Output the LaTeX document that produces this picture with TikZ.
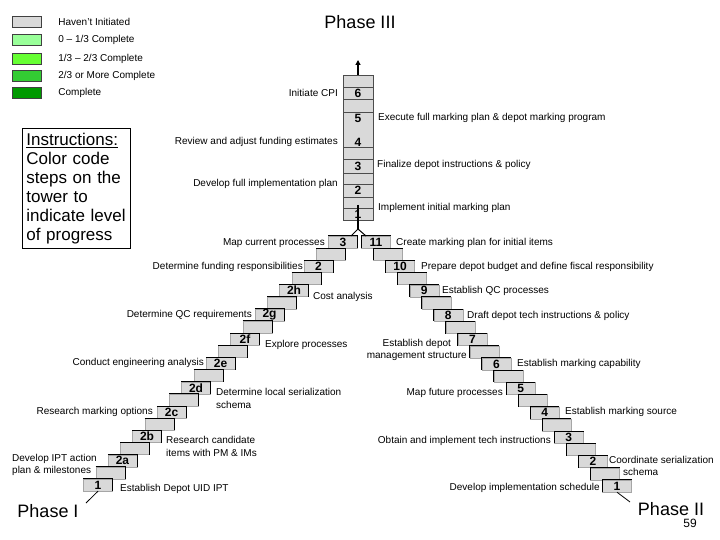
\documentclass[tikz,border=0pt]{standalone}
\usepackage{fontspec}
\setmainfont{Liberation Sans}
\usetikzlibrary{arrows.meta,positioning,calc}
\definecolor{stepgray}{RGB}{217,217,217}
\definecolor{progA}{RGB}{153,255,153}
\definecolor{progB}{RGB}{102,255,51}
\definecolor{progC}{RGB}{51,204,51}
\definecolor{progD}{RGB}{0,153,0}

\begin{document}
\begin{tikzpicture}[x=1pt,y=-1pt,
 stepbox/.style={rectangle,fill=stepgray,draw=gray!70,thin,minimum width=29pt,minimum height=12pt,inner sep=0pt},
 steplbl/.style={font=\bfseries\fontsize{12}{12}\selectfont,inner sep=0pt},
 edge/.style={black,line width=0.8pt},
 note/.style={font=\fontsize{10}{12.5}\selectfont,inner sep=0pt,align=left},
 phase/.style={font=\fontsize{18}{18}\selectfont,inner sep=0pt},
 keybox/.style={rectangle,draw=black!75,minimum width=29pt,minimum height=11pt,inner sep=0pt},
 keytxt/.style={font=\fontsize{10}{11}\selectfont,inner sep=0pt}
]
\useasboundingbox[fill=white] (0,0) rectangle (720,540);

% legend
\node[keybox,fill=stepgray] (k0) at (26.5,21.5) {};
\node[keybox,fill=progA] (k1) at (26.5,39.5) {};
\node[keybox,fill=progB] (k2) at (26.5,58.5) {};
\node[keybox,fill=progC] (k3) at (26.5,76) {};
\node[keybox,fill=progD] (k4) at (26.5,93) {};
\node[keytxt,right=17pt of k0] {Haven't Initiated};
\node[keytxt,right=17pt of k1] {0 – 1/3 Complete};
\node[keytxt,right=17pt of k2] {1/3 – 2/3 Complete};
\node[keytxt,right=17pt of k3] {2/3 or More Complete};
\node[keytxt,right=17pt of k4] {Complete};

\node[draw=black,line width=0.8pt,anchor=north west,minimum width=108pt,minimum height=120pt,
 text width=100pt,inner xsep=4pt,align=left,font=\fontsize{17}{19}\selectfont] (instr) at (22,128)
 {\underline{Instructions:}\\Color code\\steps on the\\tower to\\indicate level\\of progress};

% the two stairs
\foreach \k in {0,...,20}{
 \node[stepbox] (L\k) at ({98+12.25*\k},{485-12.15*\k}) {};
 \node[stepbox] (R\k) at ({376+12.05*\k},{242+12.2*\k}) {};
}
\foreach \k in {0,...,20}{
 \draw[edge] (L\k.north west) -- (L\k.north east) -- (L\k.south east);
 \draw[edge] (R\k.north east) -- (R\k.north west) -- (R\k.south west);
}
\foreach \k/\t in {0/1,2/2a,4/2b,6/2c,8/2d,10/2e,12/2f,14/2g,16/2h,18/2,20/3}
 \node[steplbl] (Ln\k) at (L\k) {\t};
\foreach \k/\t in {0/11,2/10,4/9,6/8,8/7,10/6,12/5,14/4,16/3,18/2,20/1}
 \node[steplbl] (Rn\k) at (R\k) {\t};

% tower
\node[stepbox,minimum width=30pt,minimum height=145pt,draw=black!70] (tower) at (358,147.5) {};
\foreach \y in {87,99,112,147,159,173,184,197,208}
 \draw[black!70] (343,\y) -- (373,\y);
\coordinate (peak) at (358,60);
\coordinate (stem) at (358,205);
\coordinate (fork) at (358,229);
\coordinate (forkL) at (351,236);
\coordinate (forkR) at (366,236);
\draw[-{Triangle[length=5pt,width=5pt]},line width=1.2pt] (tower.north) -- (peak);
\draw[line width=1.2pt] (stem) -- (fork);
\draw[line width=1pt] (forkL) -- (fork) -- (forkR);
\foreach \n/\y in {6/93,5/118,4/142,3/166,2/190,1/214}
 \node[steplbl] (t\n) at (358,\y) {\n};

\node[note,anchor=east] (n-cpi) at (338,93) {Initiate CPI};
\node[note,anchor=west] (n-exec) at (378,118) {Execute full marking plan \& depot marking program};
\node[note,anchor=east] (n-adjust) at (338,142) {Review and adjust funding estimates};
\node[note,anchor=west] (n-final) at (377,165) {Finalize depot instructions \& policy};
\node[note,anchor=east] (n-full) at (338,184) {Develop full implementation plan};
\node[note,anchor=west] (n-init) at (378,208) {Implement initial marking plan};

% left stair notes
\node[note,anchor=east] (n-map) at (325,243) {Map current processes};
\node[note,anchor=east] (n-resp) at (303,267) {Determine funding responsibilities};
\node[note,anchor=west] (n-cost) at (313,297) {Cost analysis};
\node[note,anchor=east] (n-qc) at (252,315) {Determine QC requirements};
\node[note,anchor=west] (n-explore) at (265,345) {Explore processes};
\node[note,anchor=east] (n-eng) at (204,363) {Conduct engineering analysis};
\node[note,anchor=west] (n-serial) at (216,398.5) {Determine local serialization\\schema};
\node[note,anchor=east] (n-opts) at (153,412) {Research marking options};
\node[note,anchor=west] (n-cand) at (166,446.5) {Research candidate\\items with PM \& IMs};
\node[note,anchor=west] (n-ipt) at (12,465) {Develop IPT action\\plan \& milestones};
\node[note,anchor=west] (n-uid) at (120,489) {Establish Depot UID IPT};

% right stair notes
\node[note,anchor=west] (n-create) at (396,243) {Create marking plan for initial items};
\node[note,anchor=west] (n-budget) at (421,267) {Prepare depot budget and define fiscal responsibility};
\node[note,anchor=west] (n-qcp) at (442,291) {Establish QC processes};
\node[note,anchor=west] (n-draft) at (467,316) {Draft depot tech instructions \& policy};
\node[note,anchor=east,align=center] (n-mgmt) at (467,350) {Establish depot\\management structure};
\node[note,anchor=west] (n-cap) at (517,364) {Establish marking capability};
\node[note,anchor=east] (n-future) at (503,393) {Map future processes};
\node[note,anchor=west] (n-source) at (565,412) {Establish marking source};
\node[note,anchor=east] (n-obtain) at (551,441) {Obtain and implement tech instructions};
\node[note,anchor=west] (n-coord) at (609,466) {Coordinate serialization\\\hspace*{14pt}schema};
\node[note,anchor=east] (n-sched) at (600,488) {Develop implementation schedule};

% phases
\node[phase] (ph3) at (360,22) {Phase III};
\node[phase] (ph1) at (48,511) {Phase I};
\node[phase] (ph2) at (671,509) {Phase II};
\node[font=\fontsize{12}{12}\selectfont,inner sep=0pt] (pg) at (690,523) {59};
\coordinate (ph1tip) at (86,503);
\coordinate (ph2tip) at (630,502);
\draw[edge] (L0.south) -- (ph1tip);
\draw[edge] (R20.south) -- (ph2tip);
\end{tikzpicture}
\end{document}
